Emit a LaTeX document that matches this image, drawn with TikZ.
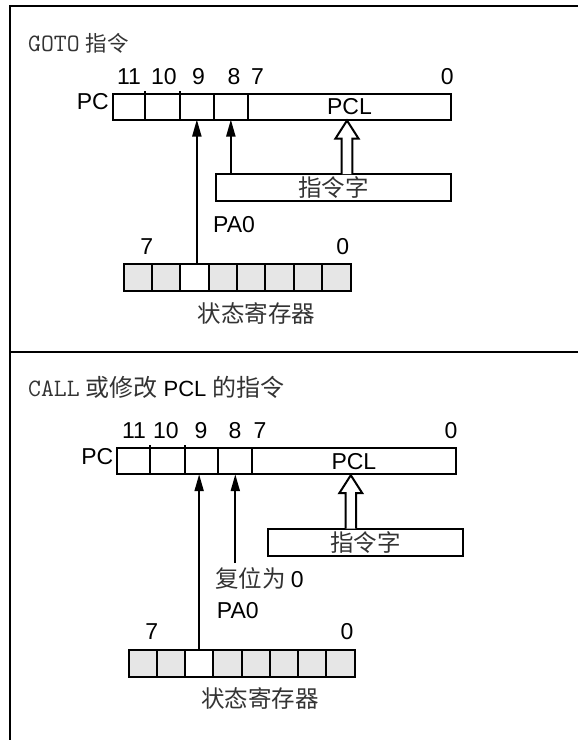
\documentclass[tikz,border=0pt]{standalone}
\usepackage{fontspec}
\setmainfont{Liberation Sans}
\newfontfamily\cjk{Noto Sans CJK SC}
\usetikzlibrary{arrows.meta,calc}
\definecolor{regfill}{HTML}{E6E6E6}
\definecolor{cjkgray}{HTML}{333333}
\begin{document}
\begin{tikzpicture}[x=1pt,y=-1pt,
  frame/.style={line width=2.3pt, line join=miter},
  cell/.style={draw, line width=2pt, minimum height=26pt, inner sep=0pt, outer sep=0pt, anchor=west},
  wordbox/.style={draw, line width=2pt, inner sep=0pt, outer sep=0pt},
  lbl/.style={font=\fontsize{23}{23}\selectfont, inner sep=0pt},
  cjklbl/.style={font=\fontsize{23.5}{24}\selectfont\cjk, text=cjkgray, inner sep=0pt},
  hdr/.style={font=\fontsize{21.5}{21.5}\selectfont, text=cjkgray, inner sep=0pt, anchor=base west},
  monotext/.style={font=\fontsize{25}{25}\selectfont\ttfamily},
  bitarrow/.style={line width=2pt, -{Triangle[width=9pt,length=17pt]}},
  hollow/.style={line width=2pt, fill=white, line join=miter},
  tick/.style={line width=2pt},
]
\useasboundingbox (0,0) rectangle (578,740);

% frame
\draw[frame] (10,740) -- (10,6) -- (578,6);
\draw[frame] (10,352) -- (578,352);

% ================= top panel =================
\node[hdr] (hdra) at (28,51) {{\fontsize{25}{25}\selectfont\ttfamily GOTO} {\cjk 指令}};

\node[cell, minimum width=32.5pt] (pa11) at (112.5,106.5) {};
\node[cell, minimum width=35pt]   (pa10) at (pa11.east) {};
\node[cell, minimum width=33.7pt] (pa9)  at (pa10.east) {};
\node[cell, minimum width=34.3pt] (pa8)  at (pa9.east) {};
\node[cell, lbl, minimum width=203pt, minimum height=26pt] (pcla) at (pa8.east) {PCL};
\draw[tick] (pa11.north east) -- ++(0,-3);
\draw[tick] (pa10.north east) -- ++(0,-3);
\node[lbl, anchor=east] (pclbla) at ([xshift=-3.5pt,yshift=4.5pt]pa11.west) {PC};

\node[lbl] (ba11) at (129,76.7) {11};
\node[lbl] (ba10) at (164,76.7) {10};
\node[lbl] (ba9)  at (198.5,76.7) {9};
\node[lbl] (ba8)  at (234,76.7) {8};
\node[lbl] (ba7)  at (257.5,76.7) {7};
\node[lbl] (ba0)  at (447.3,76.7) {0};

\node[wordbox, cjklbl, minimum width=234.8pt, minimum height=26.6pt] (worda) at (333.4,187.5) {指令字};

\foreach \i/\c in {0/regfill,1/regfill,2/white,3/regfill,4/regfill,5/regfill,6/regfill,7/regfill}
  \node[cell, minimum width=28.375pt, minimum height=26.5pt, fill=\c] (sa\i) at (123.5+28.375*\i,277.5) {};

\draw[bitarrow] (pa9.south |- sa2.north) -- (pa9.south);
\draw[bitarrow] (pa8.south |- worda.north) -- (pa8.south);

\coordinate (hxa) at (347,0);
\draw[hollow] ($(worda.north -| hxa)+(-5.3,0)$) -- ($(pcla.south -| hxa)+(-5.3,19)$)
  -- ++(-6.2,0) -- ($(pcla.south -| hxa)+(0,1)$) -- ($(pcla.south -| hxa)+(11.5,19)$)
  -- ++(-6.2,0) -- ($(worda.north -| hxa)+(5.3,0)$);

\node[lbl, anchor=base west] (pa0a) at (213,232) {PA0};
\node[lbl] (sa7lbl) at (146.7,246.7) {7};
\node[lbl] (sa0lbl) at (342.7,246.7) {0};
\node[cjklbl] (srnamea) at (256.7,313) {状态寄存器};

% ================= bottom panel =================
\node[hdr] (hdrb) at (28,396) {{\fontsize{25}{25}\selectfont\ttfamily CALL} {\fontsize{24}{24}\selectfont\cjk 或修改} {\fontsize{22}{22}\selectfont\color{black}PCL} {\fontsize{24}{24}\selectfont\cjk 的指令}};

\node[cell, minimum width=33.5pt] (pb11) at (116.5,461.2) {};
\node[cell, minimum width=35pt]   (pb10) at (pb11.east) {};
\node[cell, minimum width=33.3pt] (pb9)  at (pb10.east) {};
\node[cell, minimum width=34pt]   (pb8)  at (pb9.east) {};
\node[cell, lbl, minimum width=203.2pt, minimum height=26pt] (pclb) at (pb8.east) {PCL};
\draw[tick] (pb11.north east) -- ++(0,-3);
\draw[tick] (pb10.north east) -- ++(0,-3);
\node[lbl, anchor=east] (pclblb) at ([xshift=-3pt,yshift=4.5pt]pb11.west) {PC};

\node[lbl] (bb11) at (134,430.8) {11};
\node[lbl] (bb10) at (166,430.8) {10};
\node[lbl] (bb9)  at (201,430.8) {9};
\node[lbl] (bb8)  at (235,430.8) {8};
\node[lbl] (bb7)  at (260,430.8) {7};
\node[lbl] (bb0)  at (451,430.8) {0};

\node[wordbox, cjklbl, minimum width=195.4pt, minimum height=27.2pt] (wordb) at (365.3,542.2) {指令字};

\foreach \i/\c in {0/regfill,1/regfill,2/white,3/regfill,4/regfill,5/regfill,6/regfill,7/regfill}
  \node[cell, minimum width=28.25pt, minimum height=26.5pt, fill=\c] (sb\i) at (128.5+28.25*\i,663.3) {};

\node[cjklbl, anchor=west] (reset) at (215,578) {复位为 {\fontsize{23}{23}\selectfont\rmfamily\color{black}0}};
\coordinate (rst) at (0,563);

\draw[bitarrow] (sb2.north) -- (sb2.north |- pb9.south);
\draw[bitarrow] (pb8.south |- rst) -- (pb8.south);

\coordinate (hxb) at (350.8,0);
\draw[hollow] ($(wordb.north -| hxb)+(-5.3,0)$) -- ($(pclb.south -| hxb)+(-5.3,19)$)
  -- ++(-6.2,0) -- ($(pclb.south -| hxb)+(0,1)$) -- ($(pclb.south -| hxb)+(11.5,19)$)
  -- ++(-6.2,0) -- ($(wordb.north -| hxb)+(5.3,0)$);

\node[lbl, anchor=base west] (pa0b) at (216.7,618) {PA0};
\node[lbl] (sb7lbl) at (151.7,631.7) {7};
\node[lbl] (sb0lbl) at (347,632) {0};
\node[cjklbl] (srnameb) at (260,698) {状态寄存器};
\end{tikzpicture}
\end{document}
